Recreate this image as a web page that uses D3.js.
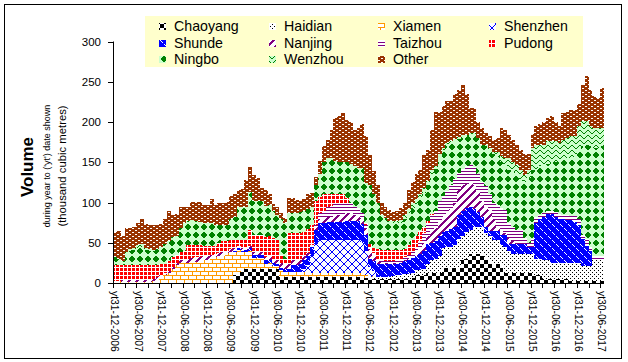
<!DOCTYPE html>
<html><head><meta charset="utf-8">
<script src="https://cdn.jsdelivr.net/npm/d3@7"></script>
<style>
body{margin:0;background:#fff}
svg{display:block}
text{font-family:"Liberation Sans",Arial,sans-serif;fill:#000}
</style>
</head><body>
<svg id="chart" width="628" height="362"></svg>
<script>
// ---------------- data (monthly, yt Dec-2006 .. yt Jun-2017) ----------------
const seriesNames = ["Chaoyang","Haidian","Xiamen","Shenzhen","Shunde","Nanjing","Taizhou","Pudong","Ningbo","Wenzhou","Other"];
const tickLabels = ["yt31-12-2006","yt30-06-2007","yt31-12-2007","yt30-06-2008","yt31-12-2008","yt30-06-2009","yt31-12-2009","yt30-06-2010","yt31-12-2010","yt30-06-2011","yt31-12-2011","yt30-06-2012","yt31-12-2012","yt30-06-2013","yt31-12-2013","yt30-06-2014","yt31-12-2014","yt30-06-2015","yt31-12-2015","yt30-06-2016","yt31-12-2016","yt30-06-2017"];
const yTicks = [0,50,100,150,200,250,300];

const chaoyang = [
0,0,0,0,0,0,0,0,0,0,
0,0,0,0,0,0,0,0,0,0,
0,0,0,0,0,0,0,0,0,0,
0,10,14,16,17,18,17,17,17,16,
17,17,17,8,8,8,8,8,8,8,
8,8,8,8,8,8,8,8,8,8,
8,8,8,8,8,6,5,5,5,5,
5,5,5,5,5,5,5,6,10,10,
10,13,13,13,13,19,19,19,19,19,
30,30,36,36,36,36,32,29,23,23,
23,13,13,13,13,13,13,13,13,10,
10,5,5,5,5,5,5,5,2,2,
2,2,2,2,2,2,2];
const haidian = [
0,0,0,0,0,0,0,0,0,0,
0,0,0,0,0,0,0,0,0,0,
0,0,0,0,0,0,0,0,0,0,
0,0,0,0,0,0,0,0,0,0,
0,0,0,0,0,0,0,0,0,0,
0,0,0,0,0,0,0,0,0,0,
0,0,0,0,0,0,0,2,3,3,
3,3,4,5,5,6,6,7,6,6,
8,10,15,17,20,24,26,26,28,36,
28,33,30,34,34,34,30,29,31,31,
24,32,27,23,23,23,23,23,23,20,
20,23,23,20,20,20,20,20,23,23,
23,19,19,19,26,26,26];
const xiamen = [
3,3,1,1,1,1,1,1,1,1,
2,4,6,10,12,18,22,25,25,25,
26,26,27,28,29,30,32,33,34,37,
39,29,27,22,22,22,14,14,14,8,
8,4,4,8,6,6,6,6,6,6,
6,5,5,5,5,5,5,5,5,5,
5,5,5,5,5,4,3,2,0,0,
0,0,0,0,0,0,0,0,0,0,
0,0,0,0,0,0,0,0,0,0,
0,0,0,0,0,0,0,0,0,0,
0,0,0,0,0,0,0,0,0,0,
0,0,0,0,0,0,0,0,0,0,
0,0,0,0,0,0,0];
const shenzhen = [
0,0,0,0,0,0,0,0,0,0,
0,0,0,0,0,0,0,0,0,0,
0,0,0,0,0,0,0,0,0,0,
0,0,0,0,0,0,0,0,0,0,
0,0,0,0,0,0,0,0,0,3,
8,20,35,40,40,40,40,40,40,40,
40,40,40,40,38,30,12,6,0,0,
0,0,0,0,0,0,0,0,0,0,
0,0,0,0,0,0,0,0,0,0,
0,0,0,0,0,0,0,0,0,0,
0,0,0,0,0,0,0,0,0,0,
0,0,0,0,0,0,0,0,0,0,
0,0,0,0,0,0,0];
const shunde = [
0,0,0,0,0,0,0,0,0,0,
0,0,0,0,0,0,0,0,0,0,
0,0,0,0,0,0,0,0,0,0,
0,1,2,2,2,3,4,4,4,4,
4,4,3,3,3,4,8,8,10,12,
12,12,18,22,22,23,23,23,23,23,
24,24,24,24,22,20,10,12,16,16,
16,16,15,14,15,16,18,18,18,20,
22,25,22,22,25,20,20,22,22,30,
32,30,28,22,18,12,8,6,10,10,
13,15,8,12,12,12,12,9,9,45,
50,54,58,61,57,55,55,53,53,51,
47,34,25,19,0,0,0];
const nanjing = [
0,0,3,3,3,3,3,3,3,3,
3,4,4,3,3,2,3,3,4,5,
5,6,5,5,5,5,4,4,4,3,
3,3,3,3,3,3,3,3,3,4,
4,5,5,6,6,6,6,6,5,4,
3,2,3,4,5,6,6,8,8,10,
10,10,8,8,8,8,12,8,4,2,
1,1,1,1,1,1,2,3,4,6,
10,10,14,16,18,20,22,25,30,30,
32,30,32,30,25,20,25,27,16,6,
5,2,8,4,0,0,0,0,0,0,
0,0,0,0,0,0,0,0,0,0,
0,0,0,0,0,0,0];
const taizhou = [
0,0,0,0,0,0,0,0,0,0,
0,0,0,0,0,0,0,0,0,0,
0,0,0,0,0,0,0,0,0,0,
0,0,0,0,0,0,0,0,0,0,
0,0,0,0,0,0,0,0,0,0,
0,0,3,8,10,12,14,14,14,14,
13,12,10,8,6,4,3,2,2,2,
2,2,2,3,3,4,4,5,6,10,
12,15,20,22,26,25,27,30,30,22,
20,22,21,22,22,24,25,19,19,27,
28,29,19,18,18,18,8,5,10,7,
5,5,4,4,6,6,5,7,5,7,
8,5,9,5,5,5,5];
const pudong = [
19,19,18,18,18,18,18,18,18,18,
17,14,13,11,12,12,10,10,11,17,
16,15,15,13,12,11,10,13,14,12,
12,11,8,10,10,20,22,22,22,25,
25,26,25,10,7,38,34,34,33,30,
30,25,30,20,20,16,14,12,12,10,
5,0,0,0,0,2,3,6,12,13,
14,14,14,13,12,10,12,14,14,12,
8,4,2,0,0,0,0,0,0,0,
0,0,0,0,0,0,0,0,0,0,
0,0,0,0,0,0,0,0,0,0,
0,0,0,0,0,0,0,0,0,0,
0,0,0,0,0,0,0];
const ningbo = [
10,8,5,16,18,19,22,23,19,18,
18,20,22,24,25,25,23,30,34,30,
31,30,29,28,28,28,26,22,20,20,
26,28,41,41,41,47,42,42,42,39,
39,34,31,44,45,25,25,25,26,26,
25,22,20,28,40,45,45,42,40,40,
45,49,50,50,56,50,74,67,58,44,
40,36,34,34,34,38,40,40,40,40,
42,45,50,52,55,58,58,52,48,42,
40,37,37,42,45,46,50,55,61,61,
57,54,65,68,69,62,69,80,85,60,
60,58,58,60,62,64,67,70,72,75,
85,110,117,125,135,135,137];
const wenzhou = [
0,0,0,0,2,3,3,3,3,2,
1,0,0,0,0,0,0,0,0,0,
0,0,0,0,0,0,0,0,0,0,
0,0,0,0,0,0,0,0,0,0,
0,0,0,0,0,0,0,0,0,0,
0,0,0,0,0,0,0,0,0,0,
0,0,0,0,0,0,0,0,0,0,
0,0,2,2,3,4,5,6,6,6,
6,5,4,3,3,2,2,2,2,2,
2,2,2,0,0,0,2,3,3,5,
8,10,15,12,12,12,9,10,28,30,
27,27,28,26,26,24,26,25,27,24,
30,31,29,25,24,24,22];
const other = [
31,34,32,30,26,26,28,31,29,30,
31,30,28,32,37,28,28,26,21,18,
23,24,25,23,23,30,25,28,28,29,
28,28,21,23,33,31,32,28,16,19,
13,8,10,8,6,19,18,16,14,15,
18,18,10,16,20,23,35,53,57,61,
52,52,45,49,54,58,37,29,22,15,
14,14,11,13,15,16,24,26,31,30,
41,38,50,68,53,52,52,50,56,59,
62,51,31,31,20,21,14,14,15,17,
34,35,29,28,25,25,26,20,17,23,
25,28,29,31,24,21,33,33,33,33,
27,45,56,45,40,38,50];

const seriesValues = [chaoyang,haidian,xiamen,shenzhen,shunde,nanjing,taizhou,pudong,ningbo,wenzhou,other];
seriesValues.forEach((a, k) => { if (a.length !== 127) throw new Error(seriesNames[k] + " length " + a.length); });

// ---------------- build ----------------
const svg = d3.select("#chart");
const nMonths = chaoyang.length;
const categories = d3.range(nMonths);
const table = categories.map(i => {
  const row = {i};
  seriesNames.forEach((n, k) => row[n] = seriesValues[k][i]);
  return row;
});

const x = d3.scaleBand().domain(categories).range([113, 604]).paddingInner(0).paddingOuter(0);
const y = d3.scaleLinear().domain([0, 300]).range([283, 41.5]);

// patterns (pixel tiles, Excel-like)
const defs = svg.append("defs");
function pattern(id, w, h, bg, fg, cells) {
  const p = defs.append("pattern").attr("id", id)
    .attr("patternUnits", "userSpaceOnUse").attr("x", 0).attr("y", 0)
    .attr("width", w).attr("height", h);
  p.append("rect").attr("width", w).attr("height", h).attr("fill", bg).attr("shape-rendering", "crispEdges");
  cells.forEach(c => p.append("rect").attr("x", c[0]).attr("y", c[1])
    .attr("width", c[2] || 1).attr("height", c[3] || 1).attr("fill", fg).attr("shape-rendering", "crispEdges"));
}
const patIds = seriesNames.map(n => "pat-" + n.toLowerCase());
// Chaoyang: large checkerboard
pattern(patIds[0], 8, 8, "#fff", "#000", [[0,0,4,4],[4,4,4,4]]);
// Haidian: sparse dots
pattern(patIds[1], 4, 4, "#fff", "#000", [[0,0],[2,2]]);
// Xiamen: orange brick
pattern(patIds[2], 8, 8, "#fff", "#FF9900", [[0,3,8,1],[0,7,8,1],[0,0,1,3],[4,4,1,3]]);
// Shenzhen: diagonal lattice
{ const c = []; for (let k = 0; k < 8; k++) { c.push([k,k]); c.push([7-k,k]); } pattern(patIds[3], 8, 8, "#fff", "#0000FF", c); }
// Shunde: blue with white dashed diagonals
pattern(patIds[4], 8, 8, "#0000FF", "#fff", [[0,0],[1,1],[2,2],[4,4],[5,5],[6,6]]);
// Nanjing: wide upward diagonal
{ const c = []; for (let yy = 0; yy < 8; yy++) for (let xx = 0; xx < 8; xx++) if (((xx + yy) % 8) < 3) c.push([xx,yy]); pattern(patIds[5], 8, 8, "#fff", "#800080", c); }
// Taizhou: horizontal lines
pattern(patIds[6], 4, 3, "#fff", "#800080", [[0,0,4,1]]);
// Pudong: red small grid
pattern(patIds[7], 4, 4, "#fff", "#FF0000", [[0,0,3,3]]);
// Ningbo: solid diamonds on light green
pattern(patIds[8], 8, 8, "#CCFFCC", "#008000", [[3,0,2,1],[2,1,4,1],[1,2,6,1],[1,3,6,1],[2,4,4,1],[3,5,2,1]]);
// Wenzhou: zigzag on light green
pattern(patIds[9], 8, 5, "#CCFFCC", "#008000", [[0,3],[1,2],[2,1],[3,0],[4,0],[5,1],[6,2],[7,3]]);
// Other: brown brick
pattern(patIds[10], 6, 4, "#993300", "#fff", [[0,0,2,1],[3,2,2,1]]);

const fills = patIds.map(id => `url(#${id})`);

// stacked stepped areas (columns with no gap)
const layers = d3.stack().keys(seriesNames)(table);
const bw = x.bandwidth();
const area = d3.area().x(d => d.x).y0(d => y(d.y0)).y1(d => y(d.y1)).curve(d3.curveLinear);

const gPlot = svg.append("g");
layers.forEach((layer, k) => {
  const pts = [];
  layer.forEach((d, i) => {
    const x0 = x(categories[i]);
    pts.push({x: x0, y0: d[0], y1: d[1]});
    pts.push({x: x0 + bw, y0: d[0], y1: d[1]});
  });
  gPlot.append("path").attr("d", area(pts)).attr("fill", fills[k])
    .attr("shape-rendering", "crispEdges");
});

// axes
const gY = svg.append("g");
gY.append("line").attr("x1", 113.5).attr("x2", 113.5).attr("y1", y(0)).attr("y2", y(300)).attr("stroke", "#000");
yTicks.forEach(t => {
  const yy = Math.round(y(t)) + 0.5;
  gY.append("line").attr("x1", 108).attr("x2", 113).attr("y1", yy).attr("y2", yy).attr("stroke", "#000");
  gY.append("text").attr("x", 101).attr("y", y(t)).attr("dy", "0.36em").attr("text-anchor", "end")
    .attr("font-size", 11.5).text(t);
});

const gX = svg.append("g");
gX.append("line").attr("x1", 113).attr("x2", 604).attr("y1", 283.5).attr("y2", 283.5).attr("stroke", "#000");
for (let k = 0; k <= nMonths; k += 3) {
  const xx = Math.round(113 + k * bw) + 0.5;
  gX.append("line").attr("x1", xx).attr("x2", xx).attr("y1", 283).attr("y2", 288).attr("stroke", "#000");
}
tickLabels.forEach((lab, j) => {
  const idx = j * 6;
  const cx = x(categories[idx]) + bw / 2;
  gX.append("text").attr("transform", `translate(${cx},291) rotate(90)`)
    .attr("dy", "0.35em").attr("font-size", 10.3).text(lab);
});

// axis titles
svg.append("text").attr("transform", "translate(27,167) rotate(-90)").attr("text-anchor", "middle")
  .attr("dy", "0.35em").attr("font-size", 17).attr("font-weight", "bold").text("Volume");
svg.append("text").attr("transform", "translate(47,166) rotate(-90)").attr("text-anchor", "middle")
  .attr("dy", "0.35em").attr("font-size", 9).text("during year to ('yt') date shown");
svg.append("text").attr("transform", "translate(62,166) rotate(-90)").attr("text-anchor", "middle")
  .attr("dy", "0.35em").attr("font-size", 11.3).text("(thousand cubic metres)");

// legend
const gL = svg.append("g");
gL.append("rect").attr("x", 145).attr("y", 16).attr("width", 438).attr("height", 51).attr("fill", "#FFFFCC");
const colX = [159, 269, 378, 489];
const rowY = [26, 42.5, 59];
seriesNames.forEach((n, k) => {
  const c = k % 4, r = Math.floor(k / 4);
  gL.append("rect").attr("x", colX[c]).attr("y", Math.round(rowY[r]) - 3).attr("width", 7).attr("height", 7)
    .attr("fill", fills[k]).attr("shape-rendering", "crispEdges");
  gL.append("text").attr("x", colX[c] + 15).attr("y", rowY[r]).attr("dy", "0.36em")
    .attr("font-size", 14.2).text(n);
});

// outer border
svg.append("rect").attr("x", 4.5).attr("y", 4.5).attr("width", 617).attr("height", 354)
  .attr("fill", "none").attr("stroke", "#000");
</script>
</body></html>
